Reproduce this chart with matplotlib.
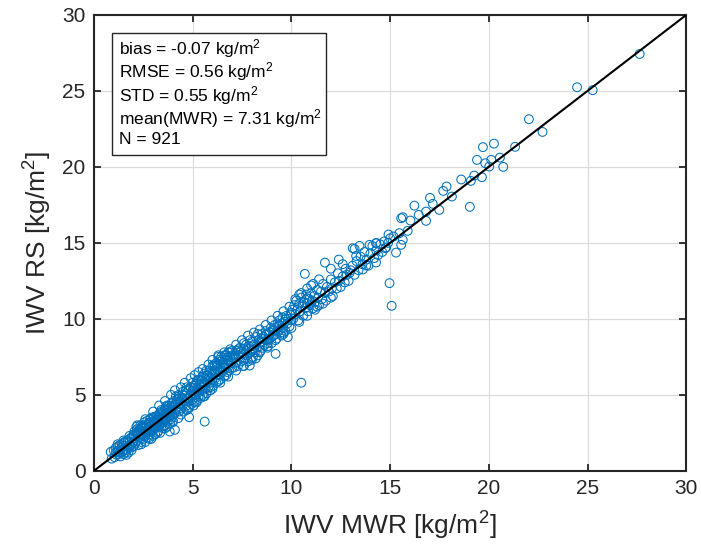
import matplotlib
matplotlib.use("Agg")
import matplotlib.pyplot as plt
from matplotlib.patches import Rectangle

plt.rcParams['font.family'] = ['Liberation Sans', 'DejaVu Sans']
plt.rcParams['mathtext.fontset'] = 'custom'
plt.rcParams['mathtext.rm'] = 'Liberation Sans'
plt.rcParams['mathtext.it'] = 'Liberation Sans'

BLUE = '#0072BD'

# IWV pairs (MWR, RS), in segments along the 1:1 line
mwr_a = [0.85, 0.9, 1.0, 1.05, 1.1, 1.15, 1.2, 1.25, 1.3, 1.3, 1.35, 1.4, 1.45, 1.5, 1.5,
         1.55, 1.6, 1.6, 1.65, 1.7, 1.7, 1.75, 1.8, 1.8, 1.85, 1.9, 1.9, 1.95, 2.0, 2.0,
         1.2, 1.4, 1.6, 1.8, 2.0, 1.1, 1.5, 1.7, 1.9, 1.35]
rs_a = [1.25, 0.8, 1.35, 0.9, 1.5, 1.05, 1.6, 1.1, 1.7, 1.2, 0.95, 1.75, 1.3, 1.85, 1.1,
        1.45, 1.95, 1.35, 1.05, 2.0, 1.6, 1.2, 2.1, 1.5, 1.7, 2.2, 1.35, 1.8, 2.4, 1.6,
        1.3, 1.55, 1.2, 1.65, 1.9, 1.2, 1.65, 1.9, 1.55, 1.4]

mwr_b = [2.05, 2.1, 2.1, 2.15, 2.2, 2.2, 2.25, 2.3, 2.3, 2.35, 2.4, 2.4, 2.45, 2.5, 2.5,
         2.55, 2.6, 2.6, 2.65, 2.7, 2.7, 2.75, 2.8, 2.8, 2.85, 2.9, 2.9, 2.95, 3.0, 3.0,
         3.0, 3.05, 3.1, 3.1, 3.15, 3.2, 3.2, 3.25, 3.3, 3.3, 3.35, 3.4, 3.4, 3.45, 3.5,
         3.5, 3.55, 3.6, 3.6, 3.65, 3.7, 3.7, 3.75, 3.8, 3.8, 3.85, 3.9, 3.9, 3.95, 4.0,
         4.0, 4.0, 2.3, 2.5, 2.7, 2.9, 3.1, 3.3, 3.5, 3.7, 3.9, 2.4, 2.6, 2.8, 3.0,
         3.2, 3.4, 3.6, 3.8, 2.2, 2.55, 2.85, 3.15, 3.45, 3.75, 3.95, 2.35, 2.65, 2.95, 3.25,
         3.55, 3.85, 3.84, 4.10, 4.27, 4.82, 5.61, 2.45, 2.75, 3.05, 3.35, 3.65, 3.95, 2.25,
         2.6, 3.0, 3.4, 3.8, 2.15, 2.5, 2.9, 3.3, 3.7, 2.0, 2.4, 2.8, 3.2, 3.6]
rs_b = [2.6, 1.8, 2.3, 2.9, 2.0, 2.5, 1.7, 2.7, 2.2, 3.0, 2.4, 1.9, 2.8, 2.1, 2.6,
        3.2, 2.3, 1.9, 2.9, 2.5, 3.3, 2.2, 2.8, 2.4, 3.4, 2.6, 2.1, 3.0, 2.7, 3.5,
        2.3, 3.1, 2.8, 2.4, 3.6, 2.9, 3.3, 2.6, 3.7, 3.0, 2.5, 3.4, 2.9, 3.9, 3.2,
        2.8, 3.6, 3.0, 4.1, 3.4, 2.9, 3.8, 3.3, 4.3, 3.6, 3.1, 3.9, 3.4, 4.5, 3.7,
        3.2, 4.2, 2.45, 2.35, 2.75, 2.95, 3.15, 3.35, 3.55, 3.75, 4.0, 2.65, 2.55, 3.05, 3.0,
        3.1, 3.65, 3.55, 3.9, 2.75, 2.75, 2.6, 3.35, 3.2, 4.05, 3.7, 2.1, 2.65, 2.75, 3.45,
        3.35, 3.6, 2.59, 2.70, 3.47, 3.53, 3.24, 2.95, 3.15, 3.55, 3.85, 4.2, 4.3, 2.35,
        2.95, 3.25, 3.1, 3.5, 2.5, 2.85, 3.2, 3.5, 3.95, 2.3, 2.9, 3.15, 3.6, 3.75]

mwr_c = [4.05, 4.1, 4.1, 4.15, 4.2, 4.25, 4.3, 4.3, 4.35, 4.4, 4.45, 4.5, 4.5, 4.55, 4.6,
         4.65, 4.7, 4.75, 4.8, 4.8, 4.85, 4.9, 4.95, 5.0, 5.0, 5.05, 5.1, 5.15, 5.2, 5.25,
         5.3, 5.3, 5.35, 5.4, 5.45, 5.5, 5.5, 5.55, 5.6, 5.65, 5.7, 5.7, 5.75, 5.8, 5.85,
         5.9, 5.9, 5.95, 6.0, 6.0, 6.05, 6.1, 6.15, 6.2, 6.2, 6.25, 6.3, 6.35, 6.4, 6.4,
         6.45, 6.5, 6.55, 6.6, 6.6, 6.65, 6.7, 6.75, 6.8, 6.8, 6.85, 6.9, 6.95, 7.0, 7.0,
         4.2, 4.6, 5.0, 5.4, 5.8, 6.2, 6.6, 4.4, 4.8, 5.2, 5.6, 6.0, 6.4, 6.8, 4.7,
         5.1, 5.5, 5.9, 6.3, 6.7, 5.2, 5.6, 6.1, 6.5, 6.9, 6.3, 4.3, 4.9, 5.35, 5.75,
         6.15, 6.55, 4.5, 5.05, 5.45, 5.85, 6.25, 6.75, 4.15, 4.65, 5.15, 5.65]
rs_c = [4.6, 3.8, 4.3, 4.9, 4.0, 4.5, 3.9, 5.0, 4.4, 4.1, 4.8, 4.3, 5.2, 3.9, 4.6,
        5.1, 4.3, 4.8, 4.1, 5.4, 4.6, 5.0, 4.4, 5.3, 4.7, 4.3, 5.6, 5.0, 4.6, 5.4,
        4.9, 6.0, 5.2, 4.8, 5.7, 5.3, 6.2, 4.9, 5.8, 5.4, 6.3, 5.1, 5.9, 5.5, 6.6,
        5.8, 5.3, 6.4, 6.0, 6.9, 5.6, 6.5, 6.1, 7.1, 5.8, 6.7, 6.3, 7.3, 6.0, 6.8,
        7.5, 6.5, 7.0, 6.2, 7.6, 6.8, 7.3, 6.5, 7.8, 7.0, 6.6, 7.5, 7.1, 7.9, 6.8,
        4.65, 4.95, 5.05, 5.55, 6.1, 6.45, 6.9, 4.55, 4.75, 5.25, 5.65, 6.35, 6.55, 7.25, 4.0,
        4.55, 5.0, 5.5, 5.9, 6.3, 5.9, 6.4, 6.9, 7.3, 7.8, 7.6, 4.75, 5.5, 5.7, 6.25,
        6.6, 7.15, 4.8, 5.45, 5.9, 6.15, 6.95, 7.45, 4.45, 5.3, 5.7, 6.05]

mwr_d = [7.05, 7.1, 7.15, 7.2, 7.25, 7.3, 7.35, 7.4, 7.45, 7.5, 7.55, 7.6, 7.65, 7.7, 7.75,
         7.8, 7.85, 7.9, 7.95, 8.0, 8.0, 8.05, 8.1, 8.15, 8.2, 8.25, 8.3, 8.35, 8.4, 8.45,
         8.5, 8.5, 8.55, 8.6, 8.65, 8.7, 8.75, 8.8, 8.85, 8.9, 8.95, 9.0, 9.0, 9.05, 9.1,
         9.15, 9.2, 9.25, 9.3, 9.35, 9.4, 9.45, 9.5, 9.5, 9.55, 9.6, 9.65, 9.7, 9.75, 9.8,
         9.85, 9.9, 9.95, 10.0, 10.0, 7.3, 7.7, 8.1, 8.5, 8.9, 9.3, 9.7, 8.3, 7.9, 8.8,
         8.2, 7.6, 9.6, 9.2, 9.82, 7.89, 7.4, 7.8, 8.4, 8.7, 9.1, 9.4, 7.2, 8.0]
rs_d = [7.4, 6.8, 7.7, 7.1, 7.9, 6.9, 7.5, 8.1, 7.2, 7.7, 6.9, 8.0, 7.4, 8.3, 7.6,
        7.2, 8.2, 7.8, 7.4, 8.5, 7.9, 7.5, 8.3, 7.8, 8.8, 8.1, 7.6, 8.6, 8.2, 7.9,
        9.0, 8.5, 8.1, 8.8, 8.3, 9.2, 8.6, 8.1, 9.0, 8.7, 9.4, 8.8, 8.4, 9.2, 8.9,
        9.6, 9.0, 8.7, 9.5, 9.2, 9.9, 9.3, 8.9, 9.7, 10.1, 9.4, 9.8, 9.2, 10.2, 9.7,
        10.0, 9.5, 10.3, 9.9, 10.4, 7.6, 7.9, 8.0, 8.7, 9.1, 9.7, 10.0, 9.0, 8.6, 8.4,
        7.4, 7.3, 9.1, 7.7, 8.8, 6.93, 7.85, 8.05, 8.45, 8.95, 9.3, 9.55, 7.45, 8.2]

mwr_e = [10.05, 10.1, 10.15, 10.2, 10.25, 10.3, 10.35, 10.4, 10.45, 10.5, 10.55, 10.6, 10.65,
         10.7, 10.75, 10.8, 10.85, 10.9, 10.95, 11.0, 11.05, 11.1, 11.15, 11.2, 11.3, 11.35,
         11.4, 11.5, 11.55, 11.6, 11.7, 11.75, 11.8, 11.9, 12.0, 12.05, 12.1, 12.2, 12.3,
         12.35, 12.4, 12.5, 12.6, 12.7, 12.75, 12.8, 12.9, 13.0, 11.7, 12.4, 10.68, 11.0,
         10.4, 12.0, 12.6, 11.3, 10.5, 10.8]
rs_e = [10.6, 10.0, 10.9, 10.3, 11.2, 10.6, 9.9, 11.0, 10.5, 11.4, 10.8, 10.2, 11.1,
        10.7, 11.6, 11.0, 10.5, 11.3, 10.9, 11.7, 11.2, 10.7, 11.5, 11.1, 11.9, 11.4,
        10.9, 11.8, 11.3, 12.3, 11.7, 11.2, 12.1, 11.8, 12.6, 12.0, 11.5, 12.4, 12.0,
        13.0, 12.5, 12.1, 12.8, 12.4, 13.3, 12.9, 12.5, 13.2, 13.7, 13.9, 12.96, 12.2,
        11.6, 13.3, 13.6, 10.8, 5.8, 11.35]

mwr_f = [13.1, 13.2, 13.3, 13.4, 13.5, 13.6, 13.7, 13.8, 13.9, 14.0, 14.1, 14.2, 14.3, 14.4,
         14.5, 14.6, 14.7, 14.8, 14.9, 15.0, 13.2, 14.3, 12.95, 13.11, 13.28, 13.45, 13.62,
         13.79, 13.96, 14.29, 14.29, 14.76, 14.92, 14.97, 15.08, 15.17, 15.30, 15.47, 15.56,
         15.56, 15.64, 15.64, 15.89, 16.03, 16.23, 16.45, 16.82, 16.82, 17.02, 17.16, 17.49,
         17.69, 17.86, 18.13, 18.60, 19.04, 19.09, 19.26, 19.40, 19.65, 19.70, 19.82, 20.02,
         20.12, 20.26, 20.56, 20.73, 21.33, 22.03, 22.72, 24.47, 25.26, 27.64]
rs_f = [13.5, 12.9, 13.8, 13.2, 14.1, 13.6, 14.4, 13.9, 13.5, 14.3, 14.8, 14.0, 14.5, 14.2,
        14.9, 14.4, 15.1, 14.7, 15.0, 15.3, 14.6, 15.0, 13.03, 14.65, 14.14, 14.80, 13.25,
        13.51, 14.87, 13.71, 14.97, 14.65, 15.55, 12.35, 10.86, 15.42, 14.36, 15.64, 16.62,
        14.87, 16.69, 15.20, 15.79, 16.47, 17.45, 16.84, 16.45, 17.06, 17.96, 17.57, 17.17,
        18.42, 18.71, 18.05, 19.17, 17.37, 19.08, 19.43, 20.46, 19.32, 21.30, 20.24, 20.02,
        20.46, 21.53, 20.61, 20.00, 21.32, 23.14, 22.30, 25.24, 25.05, 27.43]

# extra points on the upper and lower edges of the dense band
mwr_g = [2.2, 2.6, 3.0, 3.3, 3.6, 3.9, 4.1, 4.4, 4.6, 4.9, 5.1, 5.3, 5.5, 5.8, 6.0,
         6.3, 6.6, 6.9, 7.2, 7.5, 7.8, 8.1, 8.4, 8.7, 9.0, 9.3, 9.6, 9.9, 10.2, 10.5,
         10.8, 11.1, 11.4, 2.4, 2.8, 3.2, 3.6, 4.0, 4.4, 4.8, 5.2, 5.6, 6.0, 6.4, 6.8,
         7.2, 7.6, 8.0, 8.4, 8.8, 9.2, 9.6, 10.0, 10.4, 10.8, 11.2, 11.6, 12.0, 4.3, 4.7,
         5.0, 5.4, 5.7, 6.1, 6.4, 6.7, 7.0, 7.3, 7.6, 3.4, 3.7, 2.9, 2.5, 1.8, 1.5, 1.2]
rs_g = [3.0, 3.4, 3.9, 4.3, 4.6, 5.0, 5.3, 5.5, 5.8, 6.1, 6.3, 6.5, 6.7, 7.0, 7.3,
        7.5, 7.8, 8.0, 8.3, 8.6, 8.9, 9.1, 9.3, 9.6, 9.9, 10.2, 10.5, 10.8, 11.3, 11.7,
        12.0, 12.3, 12.6, 1.75, 2.1, 2.5, 2.8, 3.3, 3.7, 4.2, 4.5, 4.9, 5.4, 5.8, 6.2,
        6.6, 6.9, 7.3, 7.8, 8.2, 8.6, 9.0, 9.4, 9.8, 10.2, 10.6, 11.0, 11.4, 4.9, 5.5,
        5.8, 6.0, 6.6, 7.0, 7.2, 7.6, 7.6, 8.0, 8.4, 4.0, 4.3, 3.5, 3.0, 2.3, 2.0, 1.75]

stats = ['bias = -0.07 kg/m$^2$', 'RMSE = 0.56 kg/m$^2$', 'STD = 0.55 kg/m$^2$',
         'mean(MWR) = 7.31 kg/m$^2$', 'N = 921']
stat_y = [0.914, 0.862, 0.811, 0.760, 0.716]

mwr = mwr_a + mwr_b + mwr_c + mwr_d + mwr_e + mwr_f + mwr_g
rs = rs_a + rs_b + rs_c + rs_d + rs_e + rs_f + rs_g

fig = plt.figure(figsize=(7.01, 5.52), dpi=100)
ax = fig.add_axes([0.134, 0.147, 0.845, 0.826])

ax.scatter(mwr, rs, s=40, facecolors='none', edgecolors=BLUE, linewidths=0.75, zorder=2)
ax.plot([0, 30], [0, 30], color='black', lw=1.5, zorder=3)

ax.set_xlim(0, 30)
ax.set_ylim(0, 30)
ax.set_xticks(range(0, 31, 5))
ax.set_yticks(range(0, 31, 5))
ax.grid(True, color='#dcdcdc', lw=0.9, zorder=0)
ax.set_axisbelow(True)
ax.tick_params(direction='in', length=5, width=1.3, top=True, right=True,
               labelsize=15, pad=6, colors='#262626')
for sp in ax.spines.values():
    sp.set_linewidth(1.5)
    sp.set_color('#262626')

ax.set_xlabel('IWV MWR [kg/m$^2$]', fontsize=19, color='#262626', labelpad=8)
ax.set_ylabel('IWV RS [kg/m$^2$]', fontsize=19, color='#262626', labelpad=6)

box = Rectangle((0.030, 0.693), 0.362, 0.267, transform=ax.transAxes,
                facecolor='white', edgecolor='#262626', lw=1.0, zorder=4)
ax.add_patch(box)
for txt, yy in zip(stats, stat_y):
    ax.text(0.042, yy, txt, transform=ax.transAxes, fontsize=12.5, va='baseline',
            ha='left', zorder=5)

fig.savefig('out.png', dpi=100)
